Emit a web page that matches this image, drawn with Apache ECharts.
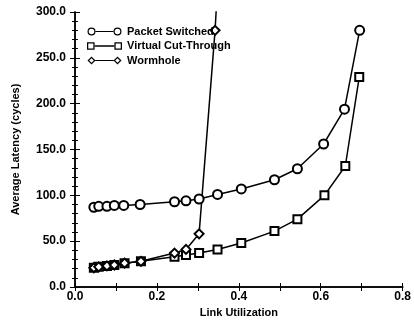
<!DOCTYPE html>
<html>
<head>
<meta charset="utf-8">
<script src="https://cdn.jsdelivr.net/npm/echarts@6/dist/echarts.min.js"></script>
<style>html,body{margin:0;padding:0;background:#fff;}#c{width:414px;height:324px;}</style>
</head>
<body>
<div id="c"></div>
<script>
// Data
var psX  = [0.046,0.058,0.078,0.096,0.119,0.159,0.243,0.271,0.303,0.348,0.406,0.487,0.543,0.607,0.658,0.695];
var psY  = [87,88,88,89,89,90,93,94,96,101,107,117,129,156,194,280];
var vctX = [0.046,0.058,0.078,0.096,0.121,0.161,0.243,0.271,0.303,0.348,0.406,0.487,0.543,0.609,0.660,0.694];
var vctY = [21,22,23,24,26,28,33,35,37,41,48,61,74,100,132,229];
var whX  = [0.046,0.058,0.078,0.096,0.121,0.161,0.243,0.271,0.303,0.342,0.352];
var whY  = [21,22,23,24,26,28,37,41,58,280,360];
var seriesNames = ['Packet Switched','Virtual Cut-Through','Wormhole'];
var xTicks = ['0.0','0.2','0.4','0.6','0.8'];
var yTicks = ['0.0','50.0','100.0','150.0','200.0','250.0','300.0'];

function pairs(xs, ys){ return xs.map(function(x,i){ return [x, ys[i]]; }); }

var FONT = '"Liberation Sans", Arial, sans-serif';

function ring(cx){
  return 'M'+(cx-4)+' 4 A4 4 0 1 0 '+(cx+4)+' 4 A4 4 0 1 0 '+(cx-4)+' 4 Z '+
         'M'+(cx-2.8)+' 4 A2.8 2.8 0 1 1 '+(cx+2.8)+' 4 A2.8 2.8 0 1 1 '+(cx-2.8)+' 4 Z ';
}
function sq(cx){
  return 'M'+(cx-3.6)+' 0.4 L'+(cx+3.6)+' 0.4 L'+(cx+3.6)+' 7.6 L'+(cx-3.6)+' 7.6 Z '+
         'M'+(cx-2.4)+' 1.6 L'+(cx-2.4)+' 6.4 L'+(cx+2.4)+' 6.4 L'+(cx+2.4)+' 1.6 Z ';
}
function dia(cx){
  return 'M'+cx+' 0 L'+(cx+4)+' 4 L'+cx+' 8 L'+(cx-4)+' 4 Z '+
         'M'+cx+' 1.7 L'+(cx-2.3)+' 4 L'+cx+' 6.3 L'+(cx+2.3)+' 4 Z ';
}
var bar = 'M7.8 3.4 L26.2 3.4 L26.2 4.6 L7.8 4.6 Z ';
var icons = [
  'path://' + ring(4) + bar + ring(30),
  'path://' + sq(4) + bar + sq(30),
  'path://' + dia(4) + bar + dia(30)
];

var xLabelSet = {};
xTicks.forEach(function(t){ xLabelSet[t] = true; });
var yLabelSet = {};
yTicks.forEach(function(t){ yLabelSet[t] = true; });

var chart = echarts.init(document.getElementById('c'), null, {renderer:'canvas'});
var axisLine = {show:true, lineStyle:{color:'#000', width:1.5}};
var option = {
  animation: false,
  backgroundColor: '#fff',
  grid: {left:75, right:7, top:12, bottom:37, containLabel:false},
  legend: {
    orient:'vertical', left:82, top:21, itemWidth:35, itemHeight:8, itemGap:3.5,
    selectedMode:false,
    itemStyle:{color:'#000', borderWidth:0},
    textStyle:{fontFamily:FONT, fontWeight:'bold', fontSize:11, color:'#000'},
    data: seriesNames.map(function(n,i){ return {name:n, icon:icons[i]}; })
  },
  xAxis: [{
    type:'value', min:0, max:0.8, interval:0.1, position:'bottom',
    name:'Link Utilization', nameLocation:'middle', nameGap:20,
    nameTextStyle:{fontFamily:FONT, fontWeight:'bold', fontSize:11, color:'#000'},
    axisLine:axisLine,
    axisTick:{show:true, inside:true, length:4, lineStyle:{color:'#000', width:1}},
    axisLabel:{margin:4, fontFamily:FONT, fontWeight:'bold', fontSize:12, color:'#000',
      formatter:function(v){ var s=v.toFixed(1); return xLabelSet[s] ? s : ''; }},
    splitLine:{show:false}
  },{
    type:'value', min:0, max:0.8, interval:0.1, position:'top',
    axisLine:axisLine,
    axisTick:{show:true, inside:true, length:4, lineStyle:{color:'#000', width:1}},
    axisLabel:{show:false}, splitLine:{show:false}
  }],
  yAxis: [{
    type:'value', min:0, max:300, interval:50, position:'left',
    name:'Average Latency (cycles)', nameLocation:'middle', nameGap:54,
    nameTextStyle:{fontFamily:FONT, fontWeight:'bold', fontSize:11, color:'#000'},
    axisLine:axisLine,
    axisTick:{show:true, inside:true, length:5, lineStyle:{color:'#000', width:1}},
    minorTick:{show:true, splitNumber:5, length:3, lineStyle:{color:'#000', width:1}},
    axisLabel:{margin:9, fontFamily:FONT, fontWeight:'bold', fontSize:12, color:'#000',
      formatter:function(v){ var s=v.toFixed(1); return yLabelSet[s] ? s : ''; }},
    splitLine:{show:false}, minorSplitLine:{show:false}
  },{
    type:'value', min:0, max:300, interval:50, position:'right',
    axisLine:axisLine,
    axisTick:{show:true, inside:true, length:5, lineStyle:{color:'#000', width:1}},
    minorTick:{show:true, splitNumber:5, length:3, lineStyle:{color:'#000', width:1}},
    axisLabel:{show:false}, splitLine:{show:false}, minorSplitLine:{show:false}
  }],
  series: [
    {name:seriesNames[0], type:'line', data:pairs(psX, psY), symbol:'emptyCircle', symbolSize:9,
     itemStyle:{color:'#000', borderColor:'#000', borderWidth:1.6}, lineStyle:{color:'#000', width:1.5}, z:3},
    {name:seriesNames[1], type:'line', data:pairs(vctX, vctY), symbol:'emptyRect', symbolSize:8,
     itemStyle:{color:'#000', borderColor:'#000', borderWidth:1.6}, lineStyle:{color:'#000', width:1.5}, z:3},
    {name:seriesNames[2], type:'line', data:pairs(whX, whY), symbol:'emptyDiamond', symbolSize:9,
     itemStyle:{color:'#000', borderColor:'#000', borderWidth:1.6}, lineStyle:{color:'#000', width:1.5}, z:3}
  ]
};
chart.setOption(option);
</script>
</body>
</html>
